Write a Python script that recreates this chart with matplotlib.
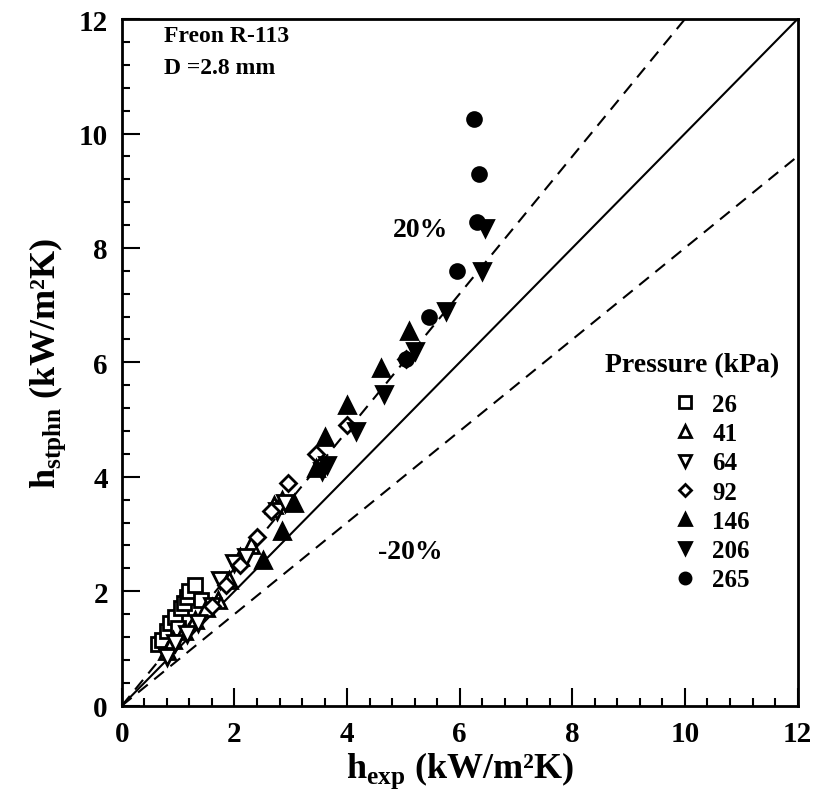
import numpy as np
import matplotlib
matplotlib.use("Agg")
import matplotlib.pyplot as plt
from matplotlib.ticker import MultipleLocator

plt.rcParams['font.family'] = ['Liberation Serif', 'DejaVu Serif']
plt.rcParams['font.weight'] = 'bold'
plt.rcParams['axes.labelweight'] = 'bold'
plt.rcParams['mathtext.fontset'] = 'custom'
plt.rcParams['mathtext.rm'] = 'Liberation Serif:bold'
plt.rcParams['mathtext.bf'] = 'Liberation Serif:bold'

# data: (h_exp, h_stphn) per pressure, kW/m2K
p26_x = [0.65, 0.72, 0.80, 0.85, 0.95, 1.00, 1.05, 1.10, 1.15, 1.20, 1.30, 1.40]
p26_y = [1.08, 1.15, 1.30, 1.45, 1.55, 1.35, 1.70, 1.80, 1.90, 2.00, 2.10, 1.85]
p41_x = [0.80, 0.90, 1.10, 1.30, 1.50, 1.70, 1.90, 2.10, 2.30, 2.70, 2.85]
p41_y = [0.95, 1.15, 1.30, 1.50, 1.70, 1.85, 2.20, 2.60, 2.80, 3.50, 3.60]
p64_x = [0.80, 0.95, 1.15, 1.35, 1.60, 1.75, 2.00, 2.20, 2.75, 2.90]
p64_y = [0.85, 1.10, 1.25, 1.45, 1.75, 2.20, 2.50, 2.60, 3.40, 3.55]
p92_x = [1.60, 1.85, 2.10, 2.40, 2.65, 2.95, 3.45, 4.00, 5.05]
p92_y = [1.75, 2.10, 2.45, 2.95, 3.40, 3.90, 4.40, 4.90, 6.05]
p146_x = [2.50, 2.85, 3.05, 3.45, 3.60, 4.00, 4.60, 5.10]
p146_y = [2.55, 3.05, 3.55, 4.15, 4.70, 5.25, 5.90, 6.55]
p206_x = [3.55, 3.65, 4.15, 4.65, 5.20, 5.75, 6.40, 6.45]
p206_y = [4.10, 4.20, 4.80, 5.45, 6.20, 6.90, 7.60, 8.35]
p265_x = [5.05, 5.45, 5.95, 6.30, 6.35, 6.25]
p265_y = [6.05, 6.80, 7.60, 8.45, 9.30, 10.25]

pressures = ['26', '41', '64', '92', '146', '206', '265']
xs = [p26_x, p41_x, p64_x, p92_x, p146_x, p206_x, p265_x]
ys = [p26_y, p41_y, p64_y, p92_y, p146_y, p206_y, p265_y]
markers = ['s', '^', 'v', 'D', '^', 'v', 'o']
filled = [False, False, False, False, True, True, True]
msizes = [10, 11, 11, 8, 12, 12, 10]

fig = plt.figure(figsize=(8.18, 8.03), dpi=100)
ax = fig.add_axes([0.149, 0.12, 0.826, 0.855])

line = np.array([0, 12])
ax.plot(line, line, color='black', lw=1.5)
ax.plot(line, 1.2 * line, color='black', lw=1.5, ls=(0, (6, 4)))
ax.plot(line, 0.8 * line, color='black', lw=1.5, ls=(0, (6, 4)))

for x, y, m, f, ms in zip(xs, ys, markers, filled, msizes):
    ax.plot(x, y, ls='none', marker=m, ms=ms, mew=2.0,
            mfc='black' if f else 'white', mec='black')

# legend handles (smaller markers, empty data)
handles = []
for m, f, lab in zip(markers, filled, pressures):
    h, = ax.plot([], [], ls='none', marker=m, ms=8 if m != 'D' else 6.5, mew=2.0,
                 mfc='black' if f else 'white', mec='black', label=lab)
    handles.append(h)
ax.legend(handles=handles, loc='upper left', bbox_to_anchor=(0.80, 0.47),
          frameon=False, fontsize=18, handlelength=1.0, handletextpad=0.6,
          labelspacing=0.25, borderaxespad=0)
ax.text(10.12, 5.96, 'Pressure (kPa)', fontsize=20, ha='center', va='center')

ax.text(0.75, 11.71, 'Freon R-113', fontsize=17, ha='left', va='center')
ax.text(0.75, 11.15, 'D =2.8 mm', fontsize=17, ha='left', va='center')
ax.text(5.3, 8.33, '20%', fontsize=20, ha='center', va='center')
ax.text(5.13, 2.69, '-20%', fontsize=20, ha='center', va='center')

ax.set_xlim(0, 12)
ax.set_ylim(0, 12)
ax.xaxis.set_major_locator(MultipleLocator(2))
ax.yaxis.set_major_locator(MultipleLocator(2))
ax.xaxis.set_minor_locator(MultipleLocator(0.4))
ax.yaxis.set_minor_locator(MultipleLocator(0.4))
ax.tick_params(which='major', direction='in', length=13, width=1.5, labelsize=21, pad=10)
ax.tick_params(which='minor', direction='in', length=6, width=1.5)
for s in ax.spines.values():
    s.set_linewidth(2)

ax.set_xlabel(r'$\mathbf{h}_{\mathbf{exp}}$ (kW/m²K)', fontsize=26, labelpad=2)
ax.set_ylabel(r'$\mathbf{h}_{\mathbf{stphn}}$ (kW/m²K)', fontsize=26, labelpad=8)

fig.savefig('out.png', dpi=100)
